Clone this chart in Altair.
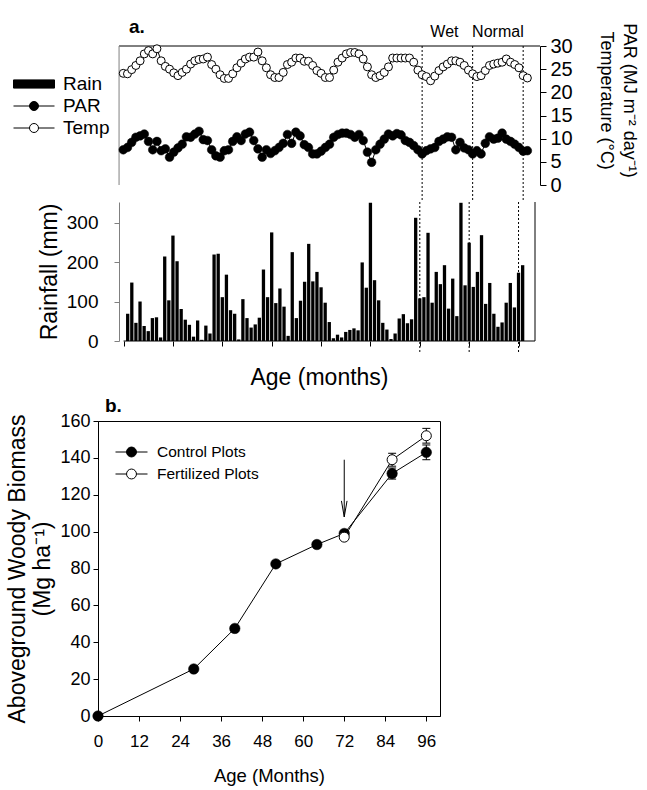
import altair as alt
import pandas as pd

FONT = "Liberation Sans"
GRAY = "#808080"

# ---------------- panel a: monthly climate (months 1-97) ----------------
months = list(range(1, 98))
rainfall_mm = [69, 148, 46, 100, 38, 25, 58, 60, 9, 214, 103, 267, 202, 81, 54, 41, 11, 52, 3, 39,
               19, 219, 221, 111, 168, 78, 69, 4, 106, 58, 34, 42, 59, 181, 111, 275, 96, 133, 87, 13,
               225, 58, 102, 150, 246, 151, 175, 136, 97, 48, 7, 16, 9, 23, 28, 32, 27, 199, 135, 350,
               154, 103, 46, 29, 5, 19, 57, 68, 45, 55, 312, 108, 111, 274, 97, 175, 144, 192, 82, 158,
               63, 350, 141, 249, 137, 175, 268, 94, 147, 69, 36, 47, 97, 147, 85, 173, 192]
temperature_c = [24.1, 24.0, 24.9, 25.8, 26.8, 28.3, 29.0, 28.3, 29.4, 26.8, 25.6, 25.0, 24.2, 23.6, 24.3, 25.0, 26.1, 26.8, 27.1, 27.2,
                 27.6, 26.0, 25.0, 23.8, 23.0, 23.0, 24.0, 25.3, 26.3, 27.2, 27.6, 27.6, 28.7, 26.8, 25.3, 23.8, 23.2, 23.2, 24.3, 26.0,
                 26.5, 27.4, 27.4, 26.7, 26.7, 25.8, 24.7, 24.1, 23.2, 23.2, 24.8, 26.5, 27.4, 28.3, 28.6, 28.6, 28.3, 27.2, 25.5, 23.8,
                 23.2, 23.6, 24.3, 25.5, 27.4, 27.4, 27.4, 27.4, 27.4, 26.5, 24.8, 23.8, 23.4, 22.5, 23.5, 24.7, 25.5, 26.1, 26.8, 26.8,
                 26.5, 25.8, 24.8, 24.0, 23.4, 23.6, 24.7, 25.8, 26.1, 26.3, 26.5, 27.2, 26.5, 26.0, 25.3, 23.6, 23.1]
par_mj = [7.6, 8.1, 9.2, 10.3, 10.6, 11.0, 9.4, 7.6, 9.4, 7.4, 7.8, 6.0, 7.1, 8.0, 8.8, 10.4, 10.3, 11.0, 11.6, 9.8,
          9.6, 7.6, 6.3, 6.0, 7.4, 7.6, 9.4, 10.4, 9.6, 11.0, 11.4, 9.6, 7.8, 6.0, 7.6, 6.8, 7.4, 8.1, 9.0, 10.9,
          9.0, 11.4, 10.6, 8.7, 8.1, 6.7, 6.7, 7.3, 8.1, 8.8, 10.3, 10.9, 11.2, 11.2, 10.9, 10.3, 10.9, 9.6, 7.1, 4.9,
          7.6, 8.8, 9.9, 11.0, 10.6, 11.1, 10.8, 9.6, 9.2, 8.5, 7.6, 6.7, 7.4, 7.8, 8.1, 9.4, 9.9, 10.4, 10.3, 7.6,
          9.2, 8.0, 7.6, 6.7, 7.4, 6.7, 9.0, 10.4, 9.9, 10.1, 11.2, 9.9, 9.4, 8.8, 8.1, 7.3, 7.4]

climate_breaks = [72, 84, 96]
period_labels = ["Wet", "Normal"]
period_centers = [77.3, 90.0]
age_axis_span = [0, 100]
legend_a = ["Rain", "PAR", "Temp"]

# ---------------- panel b: aboveground woody biomass ----------------
ages_control = [0, 28, 40, 52, 64, 72, 86, 96]
biomass_control = [0.0, 25.5, 47.5, 82.5, 93.0, 99.0, 131.5, 143.0]
ages_fert = [72, 86, 96]
biomass_fert = [97.0, 139.0, 152.0]
err_ages = [86, 96, 86, 96]
err_values = [131.5, 143.0, 139.0, 152.0]
err_half = [3.0, 4.0, 3.5, 4.0]
arrow_age = [72]
arrow_top = [139.0]
arrow_tip = [108.0]
legend_b = ["Control Plots", "Fertilized Plots"]

# ---------------- legend symbols (unit-square paths) ----------------
RAIN_SYM = "M-1,-0.2H1V0.2H-1Z"
PAR_SYM = "M-1,0H1M0.22,0A0.22,0.22,0,1,1,-0.22,0A0.22,0.22,0,1,1,0.22,0Z"
TEMP_SYM = "M-1,0H-0.22M0.22,0H1M0.22,0A0.22,0.22,0,1,1,-0.22,0A0.22,0.22,0,1,1,0.22,0Z"
CTRL_SYM = "M-1,0H1M0.31,0A0.31,0.31,0,1,1,-0.31,0A0.31,0.31,0,1,1,0.31,0Z"
FERT_SYM = "M-1,0H-0.31M0.31,0H1M0.31,0A0.31,0.31,0,1,1,-0.31,0A0.31,0.31,0,1,1,0.31,0Z"
ARROW_SYM = "M-0.35,-2L0,0L0.35,-2"

W_A, H_A, GAP_A, H_R = 442, 139, 15, 139
W_B, H_B = 342, 295

# ---------------- data tables ----------------
clim = pd.DataFrame({"month": months, "temp": temperature_c, "par": par_mj})
rain_df = pd.DataFrame({"month": months, "rain": rainfall_mm})
span = pd.DataFrame({"start": [age_axis_span[0]], "end": [age_axis_span[1]]})
breaks_df = pd.DataFrame({"month": climate_breaks})
periods_df = pd.DataFrame({"month": period_centers, "label": period_labels})
legend_a_df = pd.DataFrame({"series": legend_a})

ctrl_df = pd.DataFrame({"age": ages_control, "biomass": biomass_control})
fert_df = pd.DataFrame({"age": ages_fert, "biomass": biomass_fert})
err_df = pd.DataFrame({"age": err_ages,
                       "lo": [v - e for v, e in zip(err_values, err_half)],
                       "hi": [v + e for v, e in zip(err_values, err_half)]})
arrow_df = pd.DataFrame({"age": arrow_age, "top": arrow_top, "tip": arrow_tip})
legend_b_df = pd.DataFrame({"series": legend_b})

# ---------------- panel a, top: temperature and PAR ----------------
x_scale_a = alt.Scale(domain=[-5, 100], nice=False, zero=False)


def xa(field):
    return alt.X(field, scale=x_scale_a, axis=None)


y_axis_a = alt.Axis(orient="right", values=list(range(0, 31, 5)), tickSize=6, labelFontSize=20,
                    labelPadding=4, grid=False, domainColor="black", tickColor="black",
                    title=["PAR (MJ m\u207b\u00b2 day\u207b\u00b9)", "Temperature (\u00b0C)"],
                    titleFontSize=18, titleLineHeight=23.5, titlePadding=24, titleY=54)
y_scale_a = alt.Scale(domain=[0, 30], nice=False)


def ya(field):
    return alt.Y(field, scale=y_scale_a, axis=y_axis_a)


top_border = alt.Chart(span).mark_rule(color="black", strokeWidth=1).encode(
    x=xa("start:Q"), x2="end:Q", y=alt.value(0))
left_line = alt.Chart(span).mark_rule(color=GRAY, strokeWidth=1).encode(
    x=xa("start:Q"), y=alt.value(0), y2=alt.value(H_A))
breaks_a = alt.Chart(breaks_df).mark_rule(color="black", strokeWidth=1, strokeDash=[2, 2]).encode(
    x=xa("month:Q"), y=alt.value(0), y2=alt.value(H_A + GAP_A))
temp_line = alt.Chart(clim).mark_line(color="black", strokeWidth=1).encode(x=xa("month:Q"), y=ya("temp:Q"))
par_line = alt.Chart(clim).mark_line(color="black", strokeWidth=1).encode(x=xa("month:Q"), y=ya("par:Q"))
temp_pts = alt.Chart(clim).mark_point(shape="circle", filled=True, fill="white", stroke="black",
                                      strokeWidth=1, size=64, opacity=1).encode(x=xa("month:Q"), y=ya("temp:Q"))
par_pts = alt.Chart(clim).mark_point(shape="circle", filled=True, fill="black", stroke="black",
                                     strokeWidth=0.5, size=76, opacity=1).encode(x=xa("month:Q"), y=ya("par:Q"))
period_text = alt.Chart(periods_df).mark_text(font=FONT, fontSize=16, color="black").encode(
    x=xa("month:Q"), y=alt.value(-14), text="label:N")

leg_a = alt.Legend(title=None, orient="none", legendX=-85, legendY=28, symbolSize=1681,
                   symbolStrokeWidth=1, symbolOpacity=1,
                   labelFont=FONT, labelFontSize=19, labelColor="black", labelOffset=8,
                   clipHeight=20, rowPadding=2)
legend_a_layer = alt.Chart(legend_a_df).transform_filter("false").mark_point(
    strokeWidth=1, opacity=1).encode(
    fill=alt.Fill("series:N", scale=alt.Scale(domain=legend_a, range=["black", "black", "white"]), legend=leg_a),
    stroke=alt.Stroke("series:N", scale=alt.Scale(domain=legend_a, range=["black", "black", "black"]), legend=leg_a),
    shape=alt.Shape("series:N", scale=alt.Scale(domain=legend_a, range=[RAIN_SYM, PAR_SYM, TEMP_SYM]), legend=leg_a),
)

chart_a = alt.layer(top_border, left_line, breaks_a, temp_line, par_line, temp_pts, par_pts,
                    period_text, legend_a_layer).properties(
    width=W_A, height=H_A,
    title=alt.TitleParams("a.", anchor="start", frame="group", dx=31, dy=14, offset=0,
                          fontSize=19, fontWeight="bold", font=FONT, color="black"))

# ---------------- panel a, bottom: rainfall ----------------
x_axis_r = alt.Axis(values=list(range(0, 97, 12)), labels=False, domain=False, tickSize=5,
                    tickColor="black", grid=False, title="Age (months)", titleFontSize=23, titlePadding=20)


def xr(field):
    return alt.X(field, scale=x_scale_a, axis=x_axis_r)


y_axis_r = alt.Axis(orient="left", offset=-21, values=[0, 100, 200, 300], tickSize=5, labelFontSize=19,
                    labelPadding=16, domainColor=GRAY, tickColor=GRAY, grid=False,
                    title="Rainfall (mm)", titleFontSize=23, titlePadding=5)
y_scale_r = alt.Scale(domain=[0, 352], nice=False)

bars = alt.Chart(rain_df).mark_bar(color="black", size=3.3).encode(
    x=xr("month:Q"), y=alt.Y("rain:Q", scale=y_scale_r, axis=y_axis_r))
base_line = alt.Chart(span).mark_rule(color="black").encode(x=xr("start:Q"), x2="end:Q", y=alt.value(H_R))
right_line = alt.Chart(span).mark_rule(color="black").encode(x=xr("end:Q"), y=alt.value(0), y2=alt.value(H_R))
breaks_r = alt.Chart(breaks_df).mark_rule(color="black", strokeWidth=1, strokeDash=[2, 2]).encode(
    x=xr("month:Q"), y=alt.value(0), y2=alt.value(H_R + 12))

chart_r = alt.layer(bars, breaks_r, base_line, right_line).properties(width=W_A, height=H_R)

# ---------------- panel b ----------------
x_scale_b = alt.Scale(domain=[0, 100], nice=False, zero=False)
x_axis_b = alt.Axis(values=list(range(0, 97, 12)), tickSize=5, labelFontSize=17, labelPadding=12,
                    labelFlush=False, grid=False, title="Age (Months)", titleFontSize=18.5, titlePadding=17)
y_scale_b = alt.Scale(domain=[0, 160], nice=False)
y_axis_b = alt.Axis(values=list(range(0, 161, 20)), tickSize=5, labelFontSize=18, labelPadding=3, grid=False,
                    title=["Aboveground Woody Biomass", "(Mg ha\u207b\u00b9)"], titleFontSize=23,
                    titleLineHeight=25, titlePadding=5)


def xb(field):
    return alt.X(field, scale=x_scale_b, axis=x_axis_b)


def yb(field):
    return alt.Y(field, scale=y_scale_b, axis=y_axis_b)


ctrl_line = alt.Chart(ctrl_df).mark_line(color="black", strokeWidth=1).encode(x=xb("age:Q"), y=yb("biomass:Q"))
fert_line = alt.Chart(fert_df).mark_line(color="black", strokeWidth=1).encode(x=xb("age:Q"), y=yb("biomass:Q"))
err_rule = alt.Chart(err_df).mark_rule(color="black", strokeWidth=1).encode(x=xb("age:Q"), y=yb("lo:Q"), y2="hi:Q")
err_lo = alt.Chart(err_df).mark_tick(color="black", orient="horizontal", size=8, thickness=1, opacity=1).encode(
    x=xb("age:Q"), y=yb("lo:Q"))
err_hi = alt.Chart(err_df).mark_tick(color="black", orient="horizontal", size=8, thickness=1, opacity=1).encode(
    x=xb("age:Q"), y=yb("hi:Q"))
arrow_shaft = alt.Chart(arrow_df).mark_rule(color="black", strokeWidth=1).encode(
    x=xb("age:Q"), y=yb("top:Q"), y2="tip:Q")
arrow_head = alt.Chart(arrow_df).mark_point(shape=ARROW_SYM, size=256, filled=False, stroke="black",
                                            strokeWidth=1, opacity=1).encode(x=xb("age:Q"), y=yb("tip:Q"))
ctrl_pts = alt.Chart(ctrl_df).mark_point(shape="circle", filled=True, fill="black", stroke="black",
                                         strokeWidth=0.5, size=110, opacity=1).encode(x=xb("age:Q"), y=yb("biomass:Q"))
fert_pts = alt.Chart(fert_df).mark_point(shape="circle", filled=True, fill="white", stroke="black",
                                         strokeWidth=1, size=100, opacity=1).encode(x=xb("age:Q"), y=yb("biomass:Q"))

leg_b = alt.Legend(title=None, orient="none", legendX=17, legendY=21, symbolSize=1024,
                   symbolStrokeWidth=1, symbolOpacity=1,
                   labelFont=FONT, labelFontSize=15.5, labelColor="black", labelOffset=9,
                   clipHeight=20, rowPadding=2)
legend_b_layer = alt.Chart(legend_b_df).transform_filter("false").mark_point(
    strokeWidth=1, opacity=1).encode(
    fill=alt.Fill("series:N", scale=alt.Scale(domain=legend_b, range=["black", "white"]), legend=leg_b),
    stroke=alt.Stroke("series:N", scale=alt.Scale(domain=legend_b, range=["black", "black"]), legend=leg_b),
    shape=alt.Shape("series:N", scale=alt.Scale(domain=legend_b, range=[CTRL_SYM, FERT_SYM]), legend=leg_b),
)

chart_b = alt.layer(ctrl_line, fert_line, err_rule, err_lo, err_hi, arrow_shaft, arrow_head,
                    ctrl_pts, fert_pts, legend_b_layer).properties(
    width=W_B, height=H_B,
    view=alt.ViewBackground(stroke="black", strokeWidth=1),
    title=alt.TitleParams(["", "b."], anchor="start", frame="group", dx=7, dy=11, offset=7, lineHeight=6,
                          fontSize=19, fontWeight="bold", font=FONT, color="black"))

chart = alt.vconcat(chart_a, chart_r, chart_b, spacing=0).resolve_scale(
    fill="independent", stroke="independent", shape="independent"
).resolve_legend(
    fill="independent", stroke="independent", shape="independent"
).properties(
    padding={"left": 6, "top": 17, "right": 4, "bottom": 2}
).configure_view(stroke=None).configure_axis(
    labelFont=FONT, titleFont=FONT, labelColor="black", titleColor="black", titleFontWeight="normal",
    domainColor="black", tickColor="black", grid=False
).configure_title(font=FONT, color="black")

chart.save("out.html", embed_options={"renderer": "svg", "actions": False})
